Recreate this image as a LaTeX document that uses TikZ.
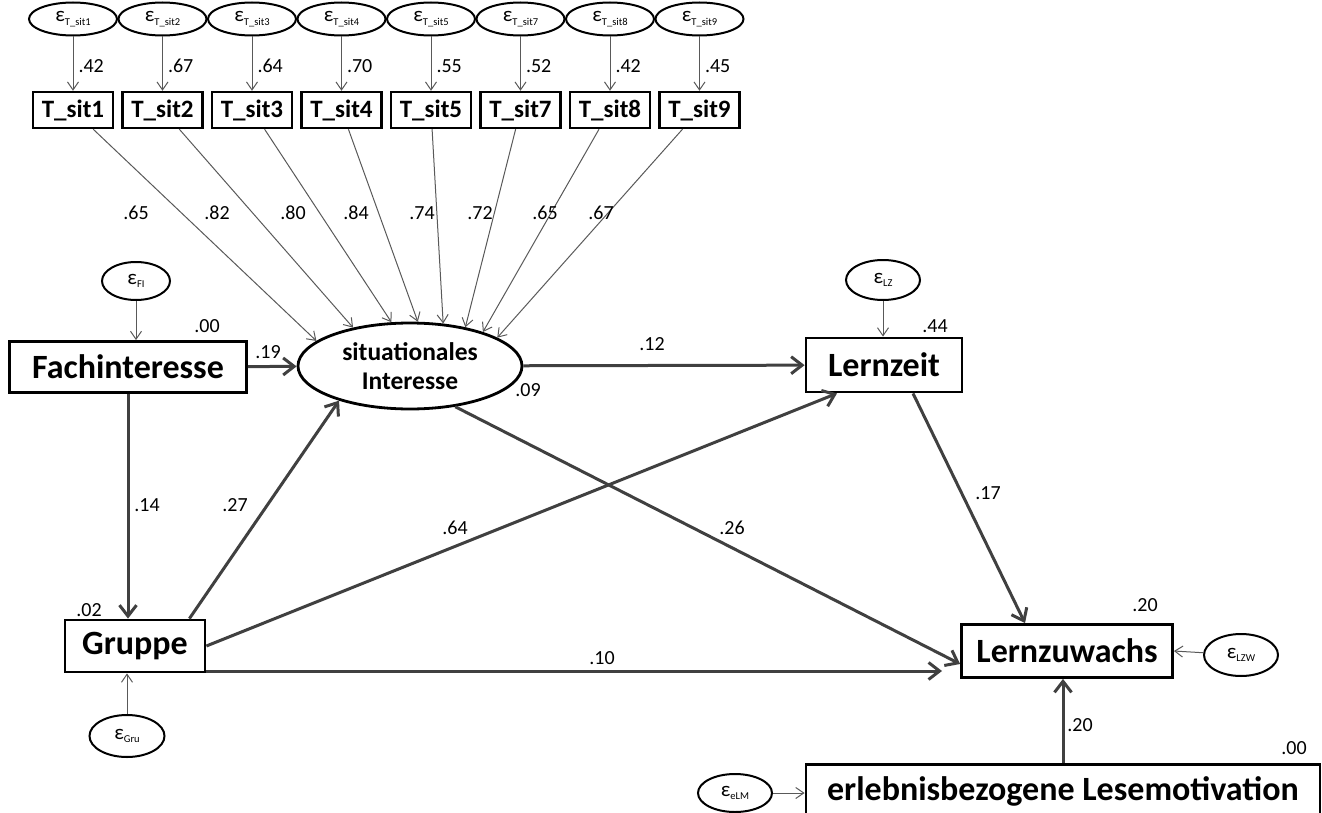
\documentclass[tikz,border=0pt]{standalone}
\usepackage{fontspec}
\setmainfont{Carlito}
\usetikzlibrary{shapes.geometric,arrows.meta}

% residual label: epsilon with a small index
\newcommand{\epsres}[1]{{\fontsize{21}{21}\selectfont ε}\raisebox{-3.5pt}{\fontsize{10.5}{10.5}\selectfont #1}}

\begin{document}
\begin{tikzpicture}[x=1pt,y=-1pt,
    manifest/.style={draw,line width=2.8pt,inner sep=0pt,font=\fontsize{34}{34}\selectfont\bfseries},
    indicator/.style={draw,line width=2.4pt,inner sep=0pt,minimum width=80pt,minimum height=36pt,font=\fontsize{25}{25}\selectfont\bfseries},
    latent/.style={draw,ellipse,line width=2.8pt,inner sep=0pt,align=center,font=\fontsize{25.5}{29}\selectfont\bfseries},
    resid/.style={draw,ellipse,line width=2pt,inner sep=0pt},
    coef/.style={inner sep=1pt,text height=13pt,text depth=0pt,font=\fontsize{20}{20}\selectfont},
    resarrow/.style={draw=black!65,line width=1pt,-{Straight Barb[length=8pt,width=11pt]}},
    effect/.style={draw=black!75,line width=3pt,-{Straight Barb[length=11pt,width=17pt]}}]
  \useasboundingbox (0,0) rectangle (1322,813);

  % indicators of situational interest
  \node[resid,minimum width=88pt,minimum height=33pt] (e1) at (73,19) {\epsres{T\_sit1}};
  \node[resid,minimum width=88pt,minimum height=33pt] (e2) at (162.5,19) {\epsres{T\_sit2}};
  \node[resid,minimum width=88pt,minimum height=33pt] (e3) at (252,19) {\epsres{T\_sit3}};
  \node[resid,minimum width=88pt,minimum height=33pt] (e4) at (341.5,19) {\epsres{T\_sit4}};
  \node[resid,minimum width=88pt,minimum height=33pt] (e5) at (431,19) {\epsres{T\_sit5}};
  \node[resid,minimum width=88pt,minimum height=33pt] (e7) at (520.5,19) {\epsres{T\_sit7}};
  \node[resid,minimum width=88pt,minimum height=33pt] (e8) at (610,19) {\epsres{T\_sit8}};
  \node[resid,minimum width=88pt,minimum height=33pt] (e9) at (699.5,19) {\epsres{T\_sit9}};

  \node[indicator] (t1) at (73,110) {T\_sit1};
  \node[indicator] (t2) at (162.5,110) {T\_sit2};
  \node[indicator] (t3) at (252,110) {T\_sit3};
  \node[indicator] (t4) at (341.5,110) {T\_sit4};
  \node[indicator] (t5) at (431,110) {T\_sit5};
  \node[indicator] (t7) at (520.5,110) {T\_sit7};
  \node[indicator] (t8) at (610,110) {T\_sit8};
  \node[indicator] (t9) at (699.5,110) {T\_sit9};

  \draw[resarrow] (e1.south) -- (t1.north) node[coef,pos=0.55,right=4pt] (r1) {.42};
  \draw[resarrow] (e2.south) -- (t2.north) node[coef,pos=0.55,right=4pt] (r2) {.67};
  \draw[resarrow] (e3.south) -- (t3.north) node[coef,pos=0.55,right=4pt] (r3) {.64};
  \draw[resarrow] (e4.south) -- (t4.north) node[coef,pos=0.55,right=4pt] (r4) {.70};
  \draw[resarrow] (e5.south) -- (t5.north) node[coef,pos=0.55,right=4pt] (r5) {.55};
  \draw[resarrow] (e7.south) -- (t7.north) node[coef,pos=0.55,right=4pt] (r7) {.52};
  \draw[resarrow] (e8.south) -- (t8.north) node[coef,pos=0.55,right=4pt] (r8) {.42};
  \draw[resarrow] (e9.south) -- (t9.north) node[coef,pos=0.55,right=4pt] (r9) {.45};

  % main variables
  \node[latent,minimum width=224pt,minimum height=86pt] (sit) at (410,366) {situationales\\Interesse};
  \node[manifest,minimum width=237pt,minimum height=51pt] (fach) at (128,367) {Fachinteresse};
  \node[manifest,minimum width=140pt,minimum height=52pt] (grp) at (135,646) {Gruppe};
  \node[manifest,minimum width=156pt,minimum height=54pt] (lz) at (884,365) {Lernzeit};
  \node[manifest,minimum width=211pt,minimum height=53pt] (lzw) at (1067,651) {Lernzuwachs};
  \node[manifest,minimum width=514pt,minimum height=53pt] (elm) at (1063,791) {erlebnisbezogene Lesemotivation};

  % loadings
  \draw[resarrow] (t1) -- (sit.165);
  \draw[resarrow] (t2) -- (sit.146);
  \draw[resarrow] (t3) -- (sit.113);
  \draw[resarrow] (t4) -- (sit.80);
  \draw[resarrow] (t5) -- (sit.52);
  \draw[resarrow] (t7) -- (sit.35);
  \draw[resarrow] (t8) -- (sit.25);
  \draw[resarrow] (t9) -- (sit.18);
  \node[coef] (l1) at (136,213) {.65};
  \node[coef] (l2) at (217,213) {.82};
  \node[coef] (l3) at (293,213) {.80};
  \node[coef] (l4) at (356,213) {.84};
  \node[coef] (l5) at (422,213) {.74};
  \node[coef] (l7) at (480,213) {.72};
  \node[coef] (l8) at (545,213) {.65};
  \node[coef] (l9) at (601,213) {.67};

  % residuals
  \node[resid,minimum width=68pt,minimum height=38pt] (eFI) at (136,281) {\epsres{FI}};
  \node[resid,minimum width=74pt,minimum height=40pt] (eLZ) at (883,280) {\epsres{LZ}};
  \node[resid,minimum width=75pt,minimum height=42pt] (eGru) at (127,736) {\epsres{Gru}};
  \node[resid,minimum width=74pt,minimum height=42pt] (eLZW) at (1241,655) {\epsres{LZW}};
  \node[resid,minimum width=74pt,minimum height=38pt] (eLM) at (735,793) {\epsres{eLM}};
  \draw[resarrow] (eFI.south) -- (eFI.south |- fach.north);
  \draw[resarrow] (eLZ.south) -- (eLZ.south |- lz.north);
  \draw[resarrow] (eGru.north) -- (eGru.north |- grp.south);
  \draw[resarrow] (eLZW) -- (lzw.east);
  \draw[resarrow] (eLM) -- (eLM -| elm.west);

  % paths
  \coordinate (g10) at (942,671);
  \draw[effect] (fach) -- (sit);
  \draw[effect] (fach.south) -- (fach.south |- grp.north);
  \draw[effect] ([xshift=-17pt]grp.north east) -- (sit.206);
  \draw[effect] (grp.east) -- ([xshift=-47pt]lz.south);
  \draw[effect] (g10 -| grp.east) -- (g10);
  \draw[effect] (sit) -- (lz);
  \draw[effect] (sit.318) -- ([yshift=-13pt]lzw.west);
  \draw[effect] ([xshift=29pt]lz.south) -- ([xshift=-42pt]lzw.north);
  \draw[effect] (elm.north) -- (elm.north |- lzw.south);

  \node[coef] (p19) at (268,352) {.19};
  \node[coef] (p12) at (652,344) {.12};
  \node[coef] (p14) at (147,505) {.14};
  \node[coef] (p27) at (235,505) {.27};
  \node[coef] (p64) at (455,528) {.64};
  \node[coef] (p26) at (732,528) {.26};
  \node[coef] (p10) at (602,658) {.10};
  \node[coef] (p17) at (988,493) {.17};
  \node[coef] (p20) at (1080,725) {.20};

  % explained variance
  \node[coef] (q1) at (207,326) {.00};
  \node[coef] (q2) at (528,390) {.09};
  \node[coef] (q3) at (935,326) {.44};
  \node[coef] (q4) at (89,610) {.02};
  \node[coef] (q5) at (1145,605) {.20};
  \node[coef] (q6) at (1294,748) {.00};
\end{tikzpicture}
\end{document}
